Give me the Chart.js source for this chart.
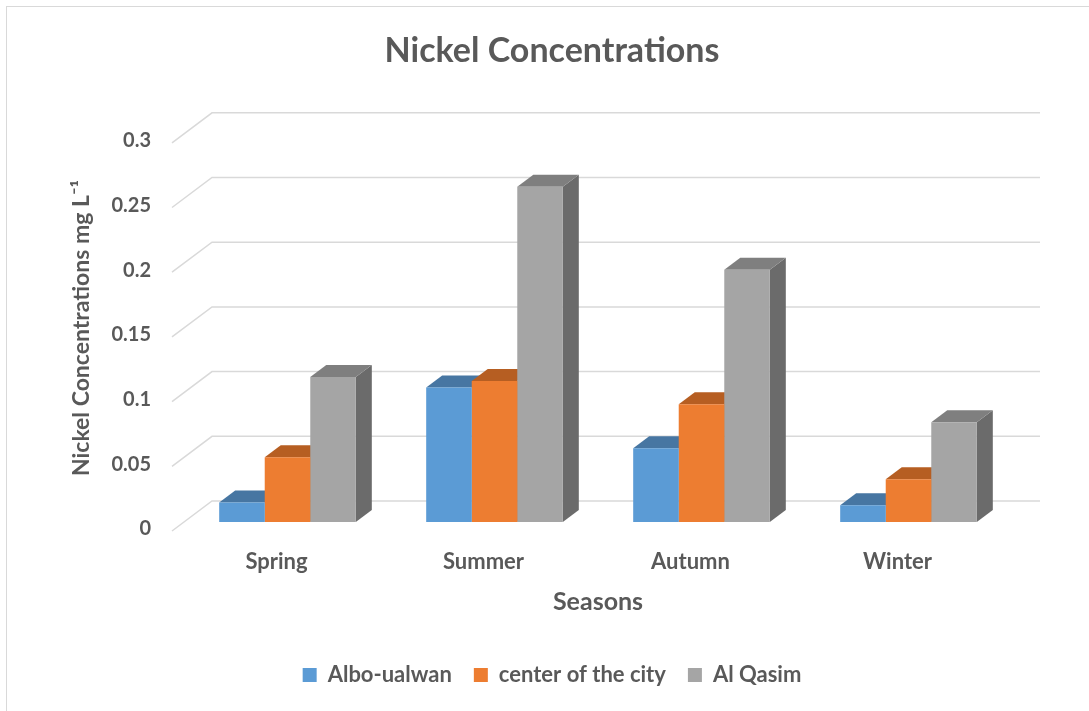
<!DOCTYPE html>
<html><head><meta charset="utf-8">
<script src="https://cdn.jsdelivr.net/npm/chart.js@4.4.1/dist/chart.umd.min.js"></script>
<style>
html,body{margin:0;padding:0;background:#fff;overflow:hidden;}
#wrap{position:relative;width:1089px;height:711px;}
#frame{position:absolute;left:6px;top:6px;width:1200px;height:800px;border:1.5px solid #d9d9d9;pointer-events:none;}
canvas{display:block}
</style></head><body>
<div id="wrap"><canvas id="c" width="1089" height="711"></canvas><div id="frame"></div></div>
<script>
const categories = ['Spring', 'Summer', 'Autumn', 'Winter'];
const seriesNames = ['Albo-ualwan', 'center of the city', 'Al Qasim'];
const alboUalwan = [0.015, 0.104, 0.057, 0.013];
const centerOfCity = [0.050, 0.109, 0.091, 0.033];
const alQasim = [0.112, 0.259, 0.195, 0.077];
const yTickValues = [0, 0.05, 0.1, 0.15, 0.2, 0.25, 0.3];
const frontColors = ['#5B9BD5', '#ED7D31', '#A5A5A5'];
const topColors = ['#4776A2', '#B65E22', '#7F7F7F'];
const sideColors = ['#3E6790', '#A0521D', '#6B6B6B'];

const FONT = 'Lato, "Open Sans", sans-serif';
const TXT = '#595959';
// oblique depth offsets (pixels) relative to the bar front plane
const WALL = {dx: 28, dy: -21};
const FRONT = {dx: -12, dy: 9};
const DEPTH = {dx: 16, dy: -12};

const threeD = {
  id: 'threeD',
  beforeDatasetsDraw(chart) {
    const {ctx, chartArea: a, scales: {y}} = chart;
    ctx.save();
    // back wall grid + diagonal side lines
    ctx.strokeStyle = '#D9D9D9';
    ctx.lineWidth = 1.5;
    yTickValues.forEach(v => {
      const py = y.getPixelForValue(v);
      ctx.beginPath();
      ctx.moveTo(a.left + FRONT.dx, py + FRONT.dy);
      ctx.lineTo(a.left + WALL.dx, py + WALL.dy);
      ctx.lineTo(a.right + WALL.dx, py + WALL.dy);
      ctx.stroke();
    });
    // sides and tops of bars, drawn behind the front faces
    const n = chart.data.labels.length;
    for (let i = 0; i < n; i++) {
      chart.data.datasets.forEach((ds, d) => {
        const bar = chart.getDatasetMeta(d).data[i];
        if (!bar) return;
        const {x, y: top, base, width} = bar.getProps(['x', 'y', 'base', 'width'], true);
        const l = x - width / 2, r = x + width / 2;
        ctx.fillStyle = sideColors[d];
        ctx.beginPath();
        ctx.moveTo(r, top);
        ctx.lineTo(r + DEPTH.dx, top + DEPTH.dy);
        ctx.lineTo(r + DEPTH.dx, base + DEPTH.dy);
        ctx.lineTo(r, base);
        ctx.closePath();
        ctx.fill();
        ctx.fillStyle = topColors[d];
        ctx.beginPath();
        ctx.moveTo(l, top);
        ctx.lineTo(l + DEPTH.dx, top + DEPTH.dy);
        ctx.lineTo(r + DEPTH.dx, top + DEPTH.dy);
        ctx.lineTo(r, top);
        ctx.closePath();
        ctx.fill();
      });
    }
    ctx.restore();
  }
};

const mk = (label, data, i) => ({
  label, data,
  backgroundColor: frontColors[i],
  borderWidth: 0,
  categoryPercentage: 0.66,
  barPercentage: 1.0
});

new Chart(document.getElementById('c'), {
  type: 'bar',
  data: {
    labels: categories,
    datasets: [
      mk(seriesNames[0], alboUalwan, 0),
      mk(seriesNames[1], centerOfCity, 1),
      mk(seriesNames[2], alQasim, 2)
    ]
  },
  plugins: [threeD],
  options: {
    responsive: false,
    animation: false,
    events: [],
    layout: {padding: {left: 92, right: 77, top: 0, bottom: 15}},
    plugins: {
      tooltip: {enabled: false},
      title: {
        display: true,
        text: 'Nickel Concentrations',
        color: TXT,
        font: {family: FONT, size: 34, weight: 'bold', lineHeight: 1.2},
        padding: {top: 31, bottom: 62}
      },
      legend: {
        position: 'bottom',
        labels: {
          color: TXT,
          font: {family: FONT, size: 22, weight: 'bold'},
          boxWidth: 14, boxHeight: 14,
          padding: 22
        }
      }
    },
    scales: {
      x: {
        grid: {display: false, drawTicks: false},
        border: {display: false},
        ticks: {color: TXT, font: {family: FONT, size: 22, weight: 'bold'}, padding: 27, labelOffset: -11},
        title: {display: true, text: 'Seasons', color: TXT, font: {family: FONT, size: 25, weight: 'bold'}, padding: {top: 0, bottom: 25}},
        afterFit(s) { s.height = 120; }
      },
      y: {
        min: 0, max: 0.3,
        grid: {display: false, drawTicks: false},
        border: {display: false},
        afterBuildTicks(s) { s.ticks = yTickValues.map(v => ({value: v})); },
        ticks: {color: TXT, font: {family: FONT, size: 20, weight: 'bold'}, padding: 33, labelOffset: 7,
          callback: v => String(v)},
        title: {display: true, text: 'Nickel Concentrations mg L⁻¹', color: TXT,
          font: {family: FONT, size: 23, weight: 'bold'}, padding: {top: -24, bottom: 0}},
        afterFit(s) { s.width = 92; }
      }
    }
  }
});
</script>
</body></html>
